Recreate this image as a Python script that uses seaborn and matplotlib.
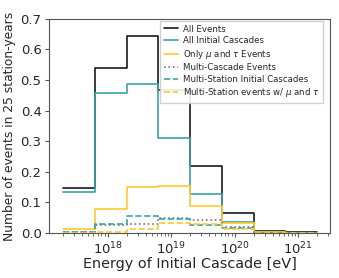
import numpy as np
import pandas as pd
import seaborn as sns
import matplotlib.pyplot as plt

# bin edges in log10(E/eV), half-decade bins
log_edges = [17.3, 17.8, 18.3, 18.8, 19.3, 19.8, 20.3, 20.8, 21.3]

all_events = [0.147, 0.538, 0.643, 0.467, 0.218, 0.066, 0.008, 0.002]
all_initial = [0.133, 0.457, 0.487, 0.311, 0.129, 0.035, 0.003, 0.001]
only_mu_tau = [0.013, 0.077, 0.151, 0.154, 0.087, 0.031, 0.002, 0.001]
multi_cascade = [0.003, 0.025, 0.028, 0.049, 0.044, 0.021, 0.001, 0.0]
multi_station_init = [0.004, 0.030, 0.054, 0.047, 0.025, 0.016, 0.001, 0.0]
multi_station_mt = [0.001, 0.004, 0.012, 0.033, 0.030, 0.013, 0.001, 0.0]

labels = ["All Events", "All Initial Cascades", r"Only $\mu$ and $\tau$ Events",
          "Multi-Cascade Events", "Multi-Station Initial Cascades",
          r"Multi-Station events w/ $\mu$ and $\tau$"]
series = [all_events, all_initial, only_mu_tau, multi_cascade,
          multi_station_init, multi_station_mt]
colors = ["#1a1a1a", "#3aa3a6", "#ffc830", "#777777", "#3aa3a6", "#ffc830"]
styles = ["-", "-", "-", ":", "--", "--"]

centers = 10 ** ((np.array(log_edges[:-1]) + np.array(log_edges[1:])) / 2)

sns.set_style("ticks")
fig = plt.figure(figsize=(3.39, 2.78), dpi=100)
ax = fig.add_axes([0.145, 0.162, 0.828, 0.77])

for lab, vals, c, ls in zip(labels, series, colors, styles):
    df = pd.DataFrame({"E": centers, "w": vals})
    sns.histplot(data=df, x="E", weights="w", bins=log_edges, log_scale=True,
                 element="step", fill=False, color=c, linestyle=ls,
                 linewidth=1.2, label=lab, ax=ax)

ax.set_xlim(10 ** 17.08, 10 ** 21.5)
ax.set_ylim(0, 0.7)
ax.set_yticks(np.arange(0, 0.71, 0.1))
ax.set_xlabel("Energy of Initial Cascade [eV]", fontsize=10.4, labelpad=0)
ax.set_ylabel("Number of events in 25 station-years", fontsize=8.8, labelpad=3)
ax.tick_params(labelsize=9.5, length=3, width=0.8, color="#555555", pad=2.5)
ax.tick_params(which="minor", length=2, color="#555555")
for s in ax.spines.values():
    s.set_color("#555555")
    s.set_linewidth(0.8)
ax.legend(loc="upper right", bbox_to_anchor=(0.99, 1.01), fontsize=6.2,
          handlelength=1.6, handletextpad=0.6, labelspacing=0.3,
          borderpad=0.4, fancybox=False, framealpha=0.9, edgecolor="#cccccc")

fig.savefig("out.png", dpi=100)
